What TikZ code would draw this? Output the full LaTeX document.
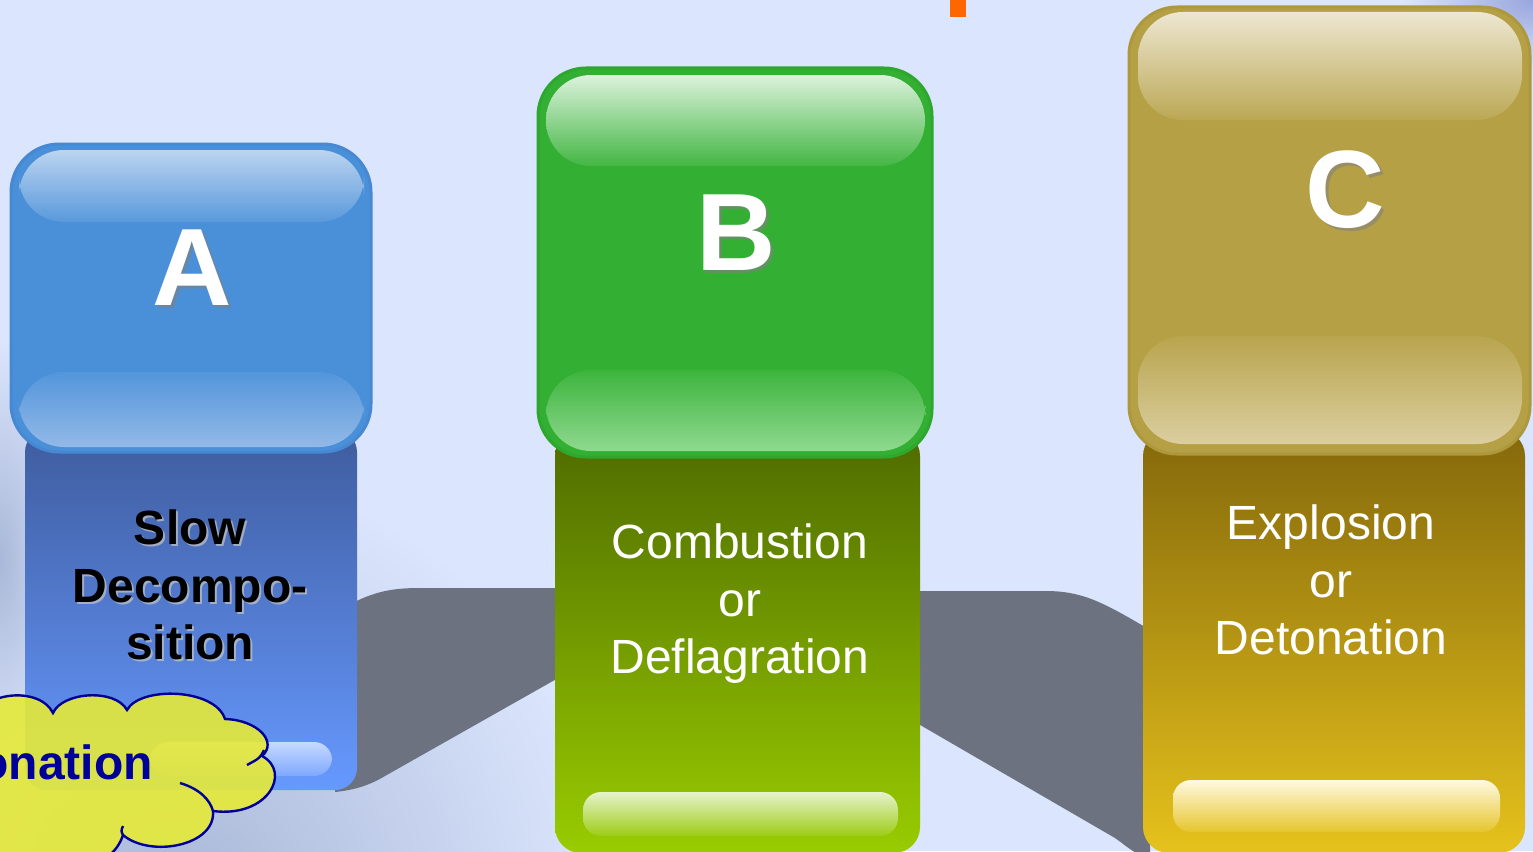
\documentclass[tikz,border=0pt]{standalone}
\usepackage{fontspec}
\setmainfont{Liberation Sans}

\definecolor{bgblue}{HTML}{DBE5FD}
\definecolor{bgshade}{HTML}{A9B8D8}
\definecolor{bandgray}{HTML}{6C727F}
\definecolor{navy}{HTML}{000099}
\definecolor{cloudyellow}{HTML}{E6EA38}
\definecolor{markorange}{HTML}{FF6600}
% A - blue
\definecolor{capA}{HTML}{4A90D9}
\definecolor{capAline}{HTML}{4788D2}
\definecolor{glossAtop}{HTML}{BCD4F0}
\definecolor{glossAbot}{HTML}{93B9E7}
\definecolor{bodyAtop}{HTML}{3F5C9E}
\definecolor{bodyAbot}{HTML}{6699FF}
\definecolor{barAtop}{HTML}{C6DAFF}
\definecolor{barAbot}{HTML}{7EA8FF}
% B - green
\definecolor{capB}{HTML}{33B033}
\definecolor{capBline}{HTML}{2DA72D}
\definecolor{glossBtop}{HTML}{DCF2DC}
\definecolor{glossBbot}{HTML}{8FD98F}
\definecolor{bodyBtop}{HTML}{4E6A00}
\definecolor{bodyBbot}{HTML}{99CC00}
\definecolor{barBtop}{HTML}{E6F3CC}
\definecolor{barBbot}{HTML}{9DCC16}
% C - gold
\definecolor{capC}{HTML}{B5A045}
\definecolor{capCline}{HTML}{AE983D}
\definecolor{glossCtop}{HTML}{EDE7D2}
\definecolor{glossCbot}{HTML}{DBCEA0}
\definecolor{bodyCtop}{HTML}{84680B}
\definecolor{bodyCbot}{HTML}{E6C21C}
\definecolor{barCtop}{HTML}{FFF9E0}
\definecolor{barCbot}{HTML}{E6C52E}

\begin{document}
\begin{tikzpicture}[x=1pt,y=-1pt]

    \tikzstyle{letter} = [text=white, font=\fontsize{110}{110}\selectfont\bfseries, inner sep=0];
    \tikzstyle{lettershadow} = [text=gray, opacity=0.55, font=\fontsize{110}{110}\selectfont\bfseries, inner sep=0];
    \tikzstyle{caption} = [align=center, text=white, font=\fontsize{48}{57.5}\selectfont, inner sep=0];
    \tikzstyle{boldcaption} = [align=center, font=\fontsize{48}{57.5}\selectfont\bfseries, inner sep=0];
    \tikzstyle{capbox} = [line width=3, rounded corners=48];
    \tikzstyle{gloss} = [rounded corners=45];
    \tikzstyle{bar} = [rounded corners=18];
    \tikzstyle{cloudline} = [navy, line width=2.4];

    \useasboundingbox (0,0) rectangle (1533,851);
    \clip (0,0) rectangle (1533,851);
    \fill[bgblue] (0,0) rectangle (1533,851);

    % Background haze
    \shade[inner color=bgshade, outer color=bgblue] (180,900) circle (430);
    \shade[inner color=bgshade, outer color=bgblue] (0,560) ellipse (70 and 220);
    \shade[inner color=bgshade!90!blue, outer color=bgblue] (1533,0) ellipse (130 and 70);

    % Gray bands
    \fill[bandgray] (340,610) .. controls (370,592) and (390,588) .. (420,588) -- (560,588)
        -- (560,677) -- (385,776) .. controls (370,785) and (355,790) .. (335,792) -- cycle;
    \fill[bandgray] (915,591) -- (1045,591) .. controls (1080,591) and (1100,600) .. (1150,630)
        -- (1150,855) -- (1140,855) .. controls (1130,850) and (1125,845) .. (1115,838)
        -- (915,722) -- cycle;

    % A - Slow
    \shade[rounded corners=22, top color=bodyAtop, bottom color=bodyAbot] (25,430) rectangle (357,790);
    \shade[bar, top color=barAtop, bottom color=barAbot] (150,742) rectangle (332,776);
    \filldraw[capbox, fill=capA, draw=capAline] (11,144) rectangle (371,452);
    \shade[gloss, top color=glossAtop, bottom color=capA!92!white] (19,150) rectangle (364,222);
    \shade[gloss, top color=capA!95!white, bottom color=glossAbot] (19,372) rectangle (364,447);
    \node[lettershadow] (letAs) at (195,271) {A};
    \node[letter] (letA) at (192,268) {A};
    \node[boldcaption, text=gray!45, opacity=0.7] (txtAs) at (192,587) {Slow\\Decompo-\\sition};
    \node[boldcaption] (txtA) at (190,585) {Slow\\Decompo-\\sition};

    % B - Combustion
    \shade[rounded corners=26, top color=bodyBtop, bottom color=bodyBbot] (555,430) rectangle (920,853);
    \shade[bar, top color=barBtop, bottom color=barBbot] (583,792) rectangle (898,836);
    \filldraw[capbox, fill=capB, draw=capBline] (538,68) rectangle (932,457);
    \shade[gloss, top color=glossBtop, bottom color=capB!92!white] (546,75) rectangle (925,166);
    \shade[gloss, top color=capB!95!white, bottom color=glossBbot] (546,370) rectangle (925,451);
    \node[lettershadow] (letBs) at (739,236) {B};
    \node[letter] (letB) at (736,233) {B};
    \node[caption] (txtB) at (740,604) {Combustion\\or\\Deflagration};

    % C - Explosion
    \shade[rounded corners=26, top color=bodyCtop, bottom color=bodyCbot] (1143,430) rectangle (1525,853);
    \shade[bar, top color=barCtop, bottom color=barCbot] (1173,780) rectangle (1500,832);
    \filldraw[capbox, fill=capC, draw=capCline] (1129,7) rectangle (1530,454);
    \shade[gloss, top color=glossCtop, bottom color=capC!92!white] (1138,12) rectangle (1522,120);
    \shade[gloss, top color=capC!95!white, bottom color=glossCbot] (1138,336) rectangle (1522,444);
    \node[lettershadow] (letCs) at (1348,193) {C};
    \node[letter] (letC) at (1345,190) {C};
    \node[caption] (txtC) at (1331,580) {Explosion\\or\\Detonation};

    % Cloud
    \filldraw[cloudline, fill=cloudyellow, fill opacity=0.9]
        (-30,725) .. controls (-20,690) and (40,686) .. (53,713)
        .. controls (62,692) and (115,688) .. (127,710)
        .. controls (140,686) and (215,688) .. (225,719)
        .. controls (258,720) and (278,742) .. (262,756)
        .. controls (292,772) and (268,818) .. (213,811)
        .. controls (216,846) and (150,858) .. (123,835)
        .. controls (112,870) and (60,880) .. (20,870) -- (-30,870) -- cycle;
    \draw[cloudline] (264,750) .. controls (260,758) .. (247,765);
    \draw[cloudline] (180,783) .. controls (200,789) and (210,800) .. (213,811);
    \draw[cloudline] (123,835) .. controls (121,831) .. (123,826);
    \node[anchor=east, inner sep=0, text=navy, font=\fontsize{48}{57.5}\selectfont\bfseries]
        (cloudtext) at (153,762) {Detonation};

    % Marker
    \fill[markorange] (950,0) rectangle (966,17);

\end{tikzpicture}
\end{document}
